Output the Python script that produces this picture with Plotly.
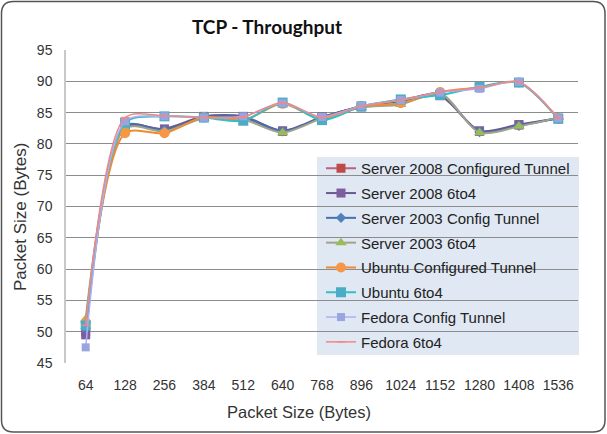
import plotly.graph_objects as go

categories = ["64", "128", "256", "384", "512", "640", "768", "896", "1024", "1152", "1280", "1408", "1536"]

server2008_cfg = [50.0, 82.8, 82.3, 84.3, 84.2, 82.0, 84.2, 86.0, 87.0, 87.8, 82.0, 83.0, 84.1]
server2008_6to4 = [49.5, 82.6, 82.4, 84.4, 84.4, 82.1, 84.3, 85.9, 86.9, 87.7, 82.1, 83.1, 84.1]
server2003_cfg = [50.5, 82.9, 82.2, 84.2, 84.3, 82.0, 84.2, 86.0, 86.8, 88.0, 81.9, 82.9, 84.1]
server2003_6to4 = [52.0, 82.5, 82.0, 84.1, 83.9, 81.8, 84.1, 85.8, 86.3, 88.1, 81.8, 82.8, 84.2]
ubuntu_cfg = [51.5, 81.7, 81.7, 84.3, 83.8, 86.4, 83.9, 86.0, 86.5, 88.3, 89.0, 89.8, 84.0]
ubuntu_6to4 = [51.0, 83.4, 84.4, 84.2, 83.7, 86.6, 83.8, 86.0, 87.1, 87.8, 89.1, 89.8, 84.0]
fedora_cfg = [47.5, 83.6, 84.4, 84.2, 84.4, 86.5, 84.3, 86.1, 87.0, 88.2, 88.8, 89.9, 84.1]
fedora_6to4 = [51.0, 84.2, 84.5, 84.2, 84.3, 86.6, 84.2, 86.0, 87.0, 88.3, 89.0, 89.9, 84.1]

series = [
    ("Server 2008 Configured Tunnel", server2008_cfg, "#c0607a", 2, "square", 9, "#be4b48"),
    ("Server 2008 6to4", server2008_6to4, "#6a5a90", 2, "square", 9, "#7d5fa0"),
    ("Server 2003 Config Tunnel", server2003_cfg, "#4a6fb0", 2, "diamond", 8, "#4f81bd"),
    ("Server 2003 6to4", server2003_6to4, "#a0a58a", 2, "triangle-up", 10, "#9bbb59"),
    ("Ubuntu Configured Tunnel", ubuntu_cfg, "#f08c30", 2, "circle", 10, "#f79646"),
    ("Ubuntu 6to4", ubuntu_6to4, "#30c0c8", 2, "square", 10, "#4bacc6"),
    ("Fedora Config Tunnel", fedora_cfg, "#aab0f5", 1.5, "square", 8, "#9aa4e0"),
    ("Fedora 6to4", fedora_6to4, "#f08888", 1.5, "line-ew", 6, "#f08888"),
]

W, H = 607, 434
ML, MR, MT, MB = 66, 29, 50, 71
PW, PH = W - ML - MR, H - MT - MB


def px(x):
    return (x - ML) / PW


def py(y):
    return (H - MB - y) / PH


fig = go.Figure()
for i, (name, vals, lc, lw, sym, ms, mc) in enumerate(series):
    fig.add_trace(go.Scatter(
        x=categories, y=vals, name=name, mode="lines+markers",
        line=dict(color=lc, width=lw, shape="spline", smoothing=0.8),
        marker=dict(symbol=sym, size=ms, color=mc,
                    line=dict(color=mc, width=1.5 if sym == "line-ew" else 0)),
        legendgroup=f"g{i}",
    ))

# rounded frame
l, r, t, b, rad = 1.5, 605, 1.5, 432, 12
path = (f"M {px(l+rad)},{py(t)} L {px(r-rad)},{py(t)} Q {px(r)},{py(t)} {px(r)},{py(t+rad)} "
        f"L {px(r)},{py(b-rad)} Q {px(r)},{py(b)} {px(r-rad)},{py(b)} "
        f"L {px(l+rad)},{py(b)} Q {px(l)},{py(b)} {px(l)},{py(b-rad)} "
        f"L {px(l)},{py(t+rad)} Q {px(l)},{py(t)} {px(l+rad)},{py(t)} Z")

shapes = [
    dict(type="path", path=path, xref="paper", yref="paper",
         line=dict(color="#555555", width=1.5), fillcolor="rgba(0,0,0,0)", layer="above"),
    dict(type="rect", xref="paper", yref="paper", x0=px(317), x1=px(579), y0=py(355), y1=py(157),
         fillcolor="#dfe8f3", line=dict(width=0), layer="below"),
]

fig.update_layout(
    width=W, height=H,
    margin=dict(l=ML, r=MR, t=MT, b=MB),
    paper_bgcolor="white", plot_bgcolor="white",
    font=dict(family="Liberation Sans, Arial, sans-serif", color="#333333"),
    title=dict(text="<b>TCP - Throughput</b>", x=267 / W, xref="container", xanchor="center",
               y=1 - 27 / H, yref="container", yanchor="middle",
               font=dict(family="Lato, sans-serif", size=19, color="#111111")),
    showlegend=True,
    legend=dict(x=px(321), y=py(152), xanchor="left", yanchor="top",
                bgcolor="rgba(0,0,0,0)", font=dict(size=15, color="#222222"),
                tracegroupgap=2.3, traceorder="grouped"),
    shapes=shapes,
    annotations=[
        dict(text="Packet Size (Bytes)", x=px(299), y=py(412), xref="paper", yref="paper",
             showarrow=False, font=dict(size=16.5, color="#333333"), xanchor="center", yanchor="middle"),
        dict(text="Packet Size (Bytes)", x=px(21), y=py(217), xref="paper", yref="paper",
             showarrow=False, textangle=-90, font=dict(size=17, color="#333333"),
             xanchor="center", yanchor="middle"),
    ],
)

fig.update_xaxes(type="category", range=[-0.5, 12.5], showgrid=False, showline=True,
                 linecolor="white", linewidth=2, ticks="", tickfont=dict(size=14, color="#333333"),
                 ticklabelstandoff=8)
fig.update_yaxes(range=[45, 95], dtick=5, showgrid=True, gridcolor="#8c8c8c", gridwidth=1,
                 showline=True, linecolor="#c8c8c8", linewidth=1.5, zeroline=False,
                 ticks="", tickfont=dict(size=14, color="#333333"), ticklabelstandoff=9)

fig.write_html("out.html")
